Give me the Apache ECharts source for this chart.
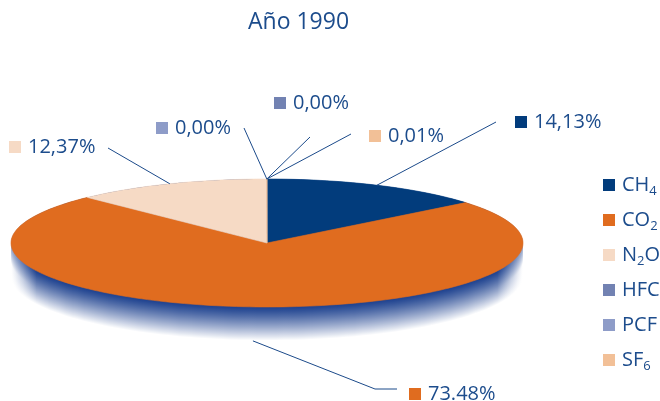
<!DOCTYPE html>
<html>
<head>
<meta charset="utf-8">
<script src="https://cdn.jsdelivr.net/npm/echarts@6/dist/echarts.min.js"></script>
<style>
  html, body { margin: 0; padding: 0; background: #fff; }
  #chart { width: 660px; height: 401px; }
</style>
</head>
<body>
<div id="chart"></div>
<script>
// data
const categories = ['CH4', 'CO2', 'N2O', 'HFC', 'PCF', 'SF6']
const values = [14.13, 73.48, 12.37, 0.00, 0.00, 0.01]
const valueLabels = ['14,13%', '73.48%', '12,37%', '0,00%', '0,00%', '0,01%']
const colors = ['#023c7c', '#e06c1f', '#f6dac5', '#7282b2', '#8e9cc8', '#f2c097']

// layout of the flat "3d" pie
const cx = 267, cy = 243, rx = 256, ry = 64, depth = 34
const textColor = '#1c4c8c'
const font = '"Open Sans", sans-serif'

// where each label sits (marker left x, centre y) and the leader line's end points
const labelLayout = [
  {mark: [515, 122], line: [[496, 122]]},
  {mark: [409, 394], line: [[375, 389], [397, 389]]},
  {mark: [9, 147], line: [[108, 148]]},
  {mark: [274, 103], line: [[310, 137]]},
  {mark: [156, 128], line: [[244, 128]]},
  {mark: [369, 136], line: [[351, 134]]}
]

const total = values.reduce((a, b) => a + b, 0)
const startAngles = []
values.reduce((acc, v) => { startAngles.push(acc); return acc + v }, 0)

const toRad = d => d * Math.PI / 180
const ellipsePoint = (deg, dy) => [cx + rx * Math.sin(toRad(deg)), cy - ry * Math.cos(toRad(deg)) + (dy || 0)]

function mix(c1, c2, t) {
  const r = Math.round(c1[0] + (c2[0] - c1[0]) * t)
  const g = Math.round(c1[1] + (c2[1] - c1[1]) * t)
  const b = Math.round(c1[2] + (c2[2] - c1[2]) * t)
  return 'rgb(' + r + ',' + g + ',' + b + ')'
}

// side wall: stacked ellipses, dark at the rim fading to white
function renderSide() {
  const layers = []
  const steps = depth
  const navy = [28, 64, 142], white = [255, 255, 255]
  for (let k = steps; k >= 0; k--) {
    const t = Math.pow(k / steps, 1.2)
    const base = mix(navy, white, t)
    const edge = mix(navy, white, Math.min(1, t + 0.55))
    const pts = []
    for (let a = 0; a <= 360; a += 2) pts.push(ellipsePoint(a, depth * k / steps))
    layers.push({
      type: 'polygon',
      shape: {points: pts},
      style: {
        fill: {
          type: 'linear', x: 0, y: 0, x2: 1, y2: 0,
          colorStops: [
            {offset: 0, color: edge},
            {offset: 0.05, color: base},
            {offset: 0.95, color: base},
            {offset: 1, color: edge}
          ]
        }
      },
      silent: true
    })
  }
  return {type: 'group', children: layers}
}

function renderSlice(i) {
  return function (params, api) {
    const v = api.value(0)
    const a0 = startAngles[i] / total * 360
    const a1 = a0 + v / total * 360
    const children = []
    if (a1 > a0) {
      const pts = [[cx, cy]]
      const n = Math.max(2, Math.ceil((a1 - a0) / 1.5))
      for (let s = 0; s <= n; s++) pts.push(ellipsePoint(a0 + (a1 - a0) * s / n))
      children.push({
        type: 'polygon',
        shape: {points: pts},
        style: {fill: colors[i], stroke: colors[i], lineWidth: 0.6}
      })
    }
    // leader line from the slice's outer edge
    const mid = (a0 + a1) / 2
    const onSide = Math.cos(toRad(mid)) < 0
    const start = ellipsePoint(mid, onSide ? depth : 0)
    const lay = labelLayout[i]
    children.push({
      type: 'polyline',
      shape: {points: [start].concat(lay.line)},
      style: {stroke: '#1b4a8a', lineWidth: 1, fill: null},
      z2: 5
    })
    children.push({
      type: 'rect',
      shape: {x: lay.mark[0], y: lay.mark[1] - 6, width: 12, height: 12},
      style: {fill: colors[i]},
      z2: 5
    })
    children.push({
      type: 'text',
      style: {
        text: valueLabels[i],
        x: lay.mark[0] + 19,
        y: lay.mark[1],
        fill: textColor,
        fontSize: 20,
        fontFamily: font,
        verticalAlign: 'middle',
        align: 'left'
      },
      z2: 5
    })
    return {type: 'group', children}
  }
}

const series = [{
  type: 'custom',
  name: 'side',
  coordinateSystem: 'none',
  silent: true,
  data: [[1]],
  renderItem: renderSide
}]
categories.forEach((name, i) => {
  series.push({
    type: 'custom',
    name: name,
    coordinateSystem: 'none',
    itemStyle: {color: colors[i]},
    data: [[values[i]]],
    renderItem: renderSlice(i)
  })
})

const chart = echarts.init(document.getElementById('chart'), null, {renderer: 'canvas'})
chart.setOption({
  animation: false,
  title: {
    text: 'Año 1990',
    left: 243,
    top: 6,
    textStyle: {color: textColor, fontSize: 23, fontWeight: 'normal', fontFamily: font}
  },
  legend: {
    data: categories,
    orient: 'vertical',
    left: 598,
    top: 170,
    icon: 'rect',
    itemWidth: 12,
    itemHeight: 12,
    itemGap: 12,
    selectedMode: false,
    formatter: name => '{n|' + name.replace(/(\d)/g, '}{s|$1}{n|') + '}',
    textStyle: {
      color: textColor,
      fontFamily: font,
      padding: [0, 0, 0, 2],
      rich: {
        n: {fontSize: 20, lineHeight: 20, padding: [0, 0, 3, 0], verticalAlign: 'top', color: textColor, fontFamily: font},
        s: {fontSize: 13, lineHeight: 13, padding: [10, 0, 0, 0], verticalAlign: 'top', color: textColor, fontFamily: font}
      }
    }
  },
  series: series
})
</script>
</body>
</html>
